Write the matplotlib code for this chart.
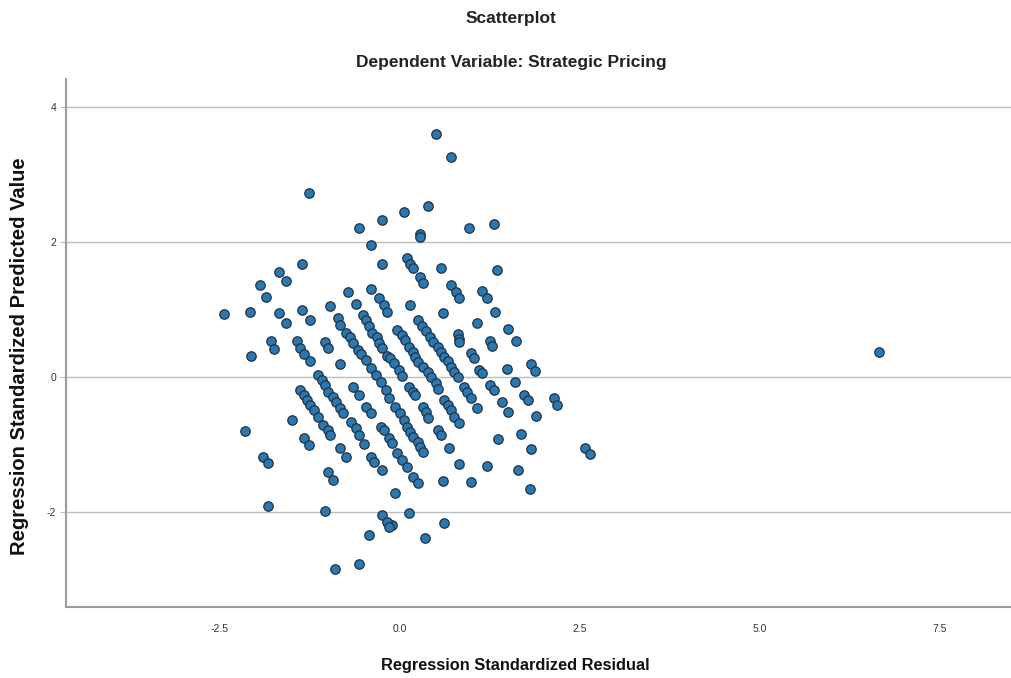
#!/usr/bin/env python3
"""
Residual scatterplot, dependent variable: Strategic Pricing.
Usage: ./plot.py
"""

import numpy as np
import matplotlib
matplotlib.use('Agg')
import matplotlib.pyplot as plt

plt.rcParams['font.family'] = ['Liberation Sans', 'DejaVu Sans']
plt.rcParams['axes.unicode_minus'] = False

# (standardized residual, standardized predicted value)
SCATTERED = [
    (0.50, 3.59), (0.71, 3.25), (-1.26, 2.72), (0.39, 2.53), (0.06, 2.44),
    (-0.25, 2.33), (-0.56, 2.20), (1.31, 2.27), (0.97, 2.20), (0.28, 2.11),
    (0.29, 2.07), (-0.40, 1.96), (-0.24, 1.67), (0.10, 1.76), (0.14, 1.68),
    (0.18, 1.62), (0.57, 1.61), (1.35, 1.58), (-1.36, 1.67), (-1.68, 1.55),
    (-1.58, 1.42), (-1.94, 1.36), (-1.85, 1.18), (0.28, 1.48), (0.33, 1.39),
    (0.72, 1.37), (0.79, 1.26), (0.83, 1.17), (1.15, 1.27), (1.22, 1.17),
    (0.15, 1.06), (0.60, 0.95), (1.33, 0.97), (-0.72, 1.26), (-0.39, 1.30),
    (-0.29, 1.17), (-0.22, 1.06), (-0.17, 0.96), (-0.97, 1.05), (-0.61, 1.08),
    (-1.35, 1.00), (-1.25, 0.84), (-1.67, 0.95), (-1.58, 0.80), (-2.08, 0.97),
    (-2.44, 0.93), (1.08, 0.80), (1.50, 0.71), (1.61, 0.53), (0.81, 0.64),
    (0.83, 0.56), (1.25, 0.53), (1.28, 0.46), (-1.79, 0.53), (-1.74, 0.41),
    (-1.43, 0.53), (-1.38, 0.43), (-1.32, 0.34), (-1.24, 0.24), (-1.04, 0.52),
    (-0.99, 0.43), (-0.82, 0.19), (-2.06, 0.31), (0.82, 0.52),
]

STREAKS = [
    (-0.86, 0.87), (-0.82, 0.77), (-0.75, 0.66), (-0.69, 0.59), (-0.64, 0.50),
    (-0.58, 0.40), (-0.54, 0.34), (-0.47, 0.25), (-0.40, 0.13), (-0.33, 0.03),
    (-0.26, -0.07), (-0.19, -0.19), (-0.14, -0.31), (-0.06, -0.44), (0.00, -0.53),
    (0.06, -0.64),
    (-0.51, 0.92), (-0.47, 0.84), (-0.42, 0.75), (-0.38, 0.66), (-0.32, 0.59),
    (-0.28, 0.50), (-0.24, 0.43), (-0.17, 0.32), (-0.13, 0.28), (-0.08, 0.21),
    (-0.01, 0.10), (0.03, 0.01),
    (-0.03, 0.69), (0.03, 0.62), (0.07, 0.55), (0.13, 0.44), (0.18, 0.37),
    (0.22, 0.30), (0.26, 0.22), (0.32, 0.15), (0.39, 0.07), (0.43, 0.00),
    (0.50, -0.09), (0.54, -0.18), (0.61, -0.34), (0.67, -0.41), (0.71, -0.49),
    (0.76, -0.59), (0.82, -0.68),
    (0.25, 0.84), (0.31, 0.75), (0.36, 0.68), (0.42, 0.59), (0.47, 0.52),
    (0.53, 0.44), (0.57, 0.37), (0.61, 0.30), (0.67, 0.24), (0.71, 0.15),
    (0.75, 0.07), (0.81, 0.00),
    (0.13, -0.15), (0.18, -0.22), (0.21, -0.27), (0.32, -0.44), (0.36, -0.52),
    (0.40, -0.61), (0.53, -0.78), (0.57, -0.86), (0.68, -1.05),
    (0.11, -0.74), (0.15, -0.81), (0.19, -0.89), (0.25, -0.96), (0.29, -1.03),
    (0.33, -1.11),
    (-0.15, -0.90), (-0.10, -0.97), (-0.03, -1.12), (0.04, -1.23), (0.10, -1.33),
    (-0.40, -1.18), (-0.36, -1.26), (-0.24, -1.37), (-0.26, -0.74), (-0.22, -0.78),
    (-0.47, -0.44), (-0.40, -0.53), (-0.64, -0.15), (-0.57, -0.27),
    (-0.68, -0.66), (-0.61, -0.75), (-0.57, -0.86), (-0.50, -0.99),
    (-1.13, 0.03), (-1.07, -0.04), (-1.03, -0.12), (-0.99, -0.22), (-0.93, -0.30),
    (-0.88, -0.37), (-0.82, -0.46), (-0.78, -0.53),
    (-1.38, -0.19), (-1.33, -0.27), (-1.28, -0.34), (-1.24, -0.41), (-1.19, -0.49),
    (-1.13, -0.59), (-1.06, -0.71), (-1.00, -0.78), (-0.96, -0.86),
]

RIGHT_AND_LOW = [
    (0.99, 0.35), (1.03, 0.28), (1.10, 0.10), (1.15, 0.06), (1.49, 0.12),
    (1.82, 0.19), (1.88, 0.09), (0.89, -0.15), (0.94, -0.22), (0.99, -0.31),
    (1.08, -0.46), (1.26, -0.12), (1.31, -0.19), (1.42, -0.37), (1.50, -0.52),
    (1.60, -0.07), (1.72, -0.27), (1.78, -0.34), (2.14, -0.31), (2.19, -0.41),
    (1.90, -0.58), (1.36, -0.92), (1.69, -0.84), (1.83, -1.06), (2.58, -1.05),
    (2.64, -1.14), (0.82, -1.29), (1.22, -1.31), (1.64, -1.37), (0.19, -1.48),
    (0.25, -1.57), (0.60, -1.54), (0.99, -1.55), (1.81, -1.65), (-0.06, -1.71),
    (0.13, -2.01), (-0.10, -2.19), (0.61, -2.16), (0.35, -2.38),
    (-1.49, -0.64), (-1.33, -0.90), (-1.26, -1.00), (-0.82, -1.05), (-0.75, -1.18),
    (-1.89, -1.18), (-1.83, -1.27), (-0.99, -1.40), (-0.93, -1.52), (-2.14, -0.80),
    (-1.83, -1.91), (-1.04, -1.98), (-0.24, -2.04), (-0.18, -2.14), (-0.14, -2.22),
    (-0.43, -2.33), (-0.56, -2.76), (-0.89, -2.84),
    (6.65, 0.37),
]

POINTS = np.array(SCATTERED + STREAKS + RIGHT_AND_LOW)
X_TICKS = [-2.5, 0.0, 2.5, 5.0, 7.5]
Y_TICKS = [-2, 0, 2, 4]

fig = plt.figure(figsize=(10.12, 6.78), dpi=100)
ax = fig.add_axes([0.0652, 0.1047, 0.9348, 0.7788])

ax.scatter(POINTS[:, 0], POINTS[:, 1], s=46, c='#2b78b0',
           edgecolors='#1c3348', linewidths=0.9, zorder=3)

ax.set_xlim(-4.63, 8.5)
ax.set_ylim(-3.40, 4.41)
ax.set_xticks(X_TICKS)
ax.set_xticklabels(['{:.1f}'.format(t) for t in X_TICKS])
ax.set_yticks(Y_TICKS)
ax.grid(axis='y', color='#bdbdbd', linewidth=1.0, zorder=0)
ax.tick_params(axis='x', length=0, pad=12, labelsize=7.5, labelcolor='#333333')
ax.tick_params(axis='y', length=4, color='#bdbdbd', pad=3, labelsize=7.5,
               labelcolor='#333333')

for side in ['top', 'right']:
    ax.spines[side].set_visible(False)
for side in ['left', 'bottom']:
    ax.spines[side].set_color('#9a9a9a')
    ax.spines[side].set_linewidth(1.5)

fig.text(0.509, 0.019, 'Regression Standardized Residual', ha='center',
         va='center', fontsize=11.8, fontweight='bold', color='#111111')
fig.text(0.019, 0.475, 'Regression Standardized Predicted Value', ha='center',
         va='center', rotation=90, fontsize=14.5, fontweight='bold',
         color='#111111')

fig.text(0.505, 0.972, 'Scatterplot', ha='center', va='center',
         fontsize=12.5, fontweight='bold', color='#222222')
fig.text(0.505, 0.908, 'Dependent Variable: Strategic Pricing', ha='center',
         va='center', fontsize=12.5, fontweight='bold', color='#222222')

fig.savefig('out.png', dpi=100)
